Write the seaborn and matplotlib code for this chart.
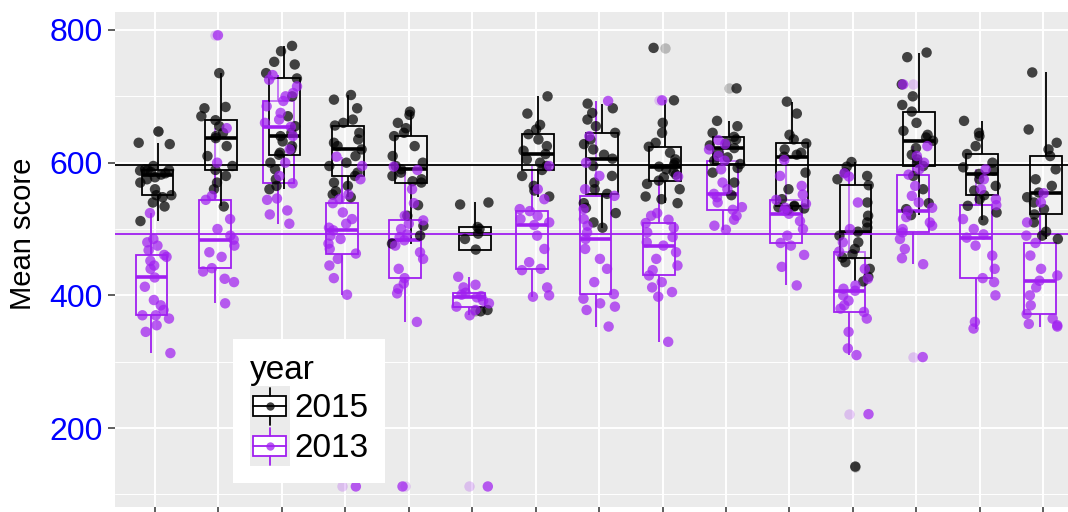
import numpy as np
import pandas as pd
import matplotlib
matplotlib.use("Agg")
import matplotlib.pyplot as plt
import seaborn as sns
from matplotlib.legend_handler import HandlerBase
from matplotlib.patches import Rectangle
from matplotlib.lines import Line2D
from matplotlib.colors import to_rgba

# ---- data -------------------------------------------------------------
groups = list(range(15))

scores_2015 = [
    [512, 534, 540, 548, 551, 551, 560, 570, 575, 578, 582, 584, 586, 588, 589, 589, 590, 595, 628, 630, 647],
    [534, 560, 570, 580, 589, 595, 610, 625, 637, 640, 645, 655, 664, 670, 682, 684, 735],
    [560, 565, 575, 590, 600, 612, 615, 620, 625, 632, 640, 645, 655, 670, 700, 727, 735, 748, 752, 768, 776],
    [548, 552, 557, 565, 570, 580, 585, 595, 600, 610, 620, 625, 630, 635, 645, 656, 660, 665, 682, 695, 702],
    [478, 490, 505, 520, 536, 570, 572, 575, 580, 585, 590, 595, 600, 610, 625, 640, 645, 652, 660, 672, 677],
    [376, 378, 469, 485, 493, 500, 503, 537, 540],
    [549, 558, 565, 580, 589, 595, 600, 605, 613, 618, 625, 635, 643, 650, 657, 674, 700],
    [502, 510, 524, 532, 539, 553, 560, 570, 580, 595, 606, 612, 620, 628, 635, 645, 655, 665, 675, 682, 689],
    [539, 545, 549, 560, 568, 573, 578, 582, 586, 590, 594, 597, 600, 605, 615, 624, 630, 645, 660, 694, 773],
    [551, 570, 585, 592, 598, 603, 608, 615, 622, 626, 630, 635, 639, 645, 655, 663, 712],
    [529, 531, 533, 534, 535, 545, 560, 585, 609, 612, 615, 620, 629, 635, 642, 674, 692],
    [142, 421, 428, 440, 450, 457, 462, 470, 480, 490, 496, 502, 510, 520, 540, 566, 575, 580, 585, 594, 601],
    [521, 530, 539, 560, 580, 595, 600, 605, 612, 622, 633, 638, 642, 648, 660, 677, 687, 700, 718, 759, 766],
    [513, 525, 535, 545, 551, 558, 565, 575, 583, 588, 593, 600, 613, 625, 640, 645, 663],
    [485, 490, 496, 510, 522, 530, 540, 548, 555, 565, 575, 590, 610, 620, 630, 650, 736],
]

scores_2013 = [
    [313, 345, 355, 365, 370, 370, 378, 385, 393, 413, 427, 440, 445, 452, 458, 461, 468, 475, 480, 485, 524],
    [388, 420, 425, 436, 441, 458, 465, 475, 484, 490, 500, 515, 544, 550, 600, 652, 792],
    [508, 522, 528, 544, 546, 569, 580, 600, 620, 640, 654, 660, 665, 675, 685, 693, 700, 705, 715, 725, 732],
    [112, 401, 426, 445, 455, 463, 470, 478, 485, 490, 498, 502, 508, 515, 525, 539, 545, 552, 575, 595, 609],
    [112, 360, 403, 410, 418, 426, 440, 455, 465, 475, 483, 488, 492, 500, 508, 513, 520, 539, 560, 589, 594],
    [112, 370, 378, 383, 388, 392, 397, 399, 401, 404, 412, 416, 428],
    [398, 400, 412, 438, 440, 450, 470, 490, 506, 510, 515, 520, 527, 530, 545, 560, 595],
    [353, 378, 383, 388, 395, 402, 420, 440, 455, 470, 485, 495, 505, 515, 530, 550, 560, 580, 600, 640, 693],
    [330, 398, 405, 412, 420, 430, 438, 445, 455, 465, 475, 480, 488, 495, 502, 509, 514, 520, 524, 579, 694],
    [499, 505, 514, 520, 529, 533, 540, 548, 553, 560, 570, 590, 603, 610, 620, 628, 634],
    [415, 443, 461, 475, 479, 490, 500, 512, 523, 528, 532, 538, 544, 552, 565, 580, 604],
    [221, 310, 320, 345, 365, 375, 380, 385, 392, 400, 407, 410, 415, 425, 440, 466, 480, 500, 540, 579, 584],
    [307, 447, 456, 470, 485, 495, 500, 505, 510, 518, 527, 532, 540, 550, 565, 582, 590, 600, 610, 625, 718],
    [350, 360, 400, 420, 426, 440, 460, 475, 487, 492, 500, 515, 536, 545, 560, 575, 590],
    [353, 355, 357, 365, 372, 385, 400, 412, 422, 430, 440, 460, 479, 490, 510, 540, 554],
]

years = ["2015", "2013"]
year_colors = {"2015": "#000000", "2013": "#A020F0"}
overall_means = {"2015": 597, "2013": 493}
y_ticks = [200, 400, 600, 800]
y_minor = [100, 300, 500, 700]

# small horizontal nudge so the two years' boxes do not sit exactly on top of each other
box_shift = {"2015": 0.04, "2013": -0.055}

rows = []
for year, series in (("2015", scores_2015), ("2013", scores_2013)):
    for g, vals in zip(groups, series):
        for v in vals:
            rows.append({"group": g, "year": year, "score": v})
df = pd.DataFrame(rows)
df["pos"] = df["group"] + df["year"].map(box_shift)

# ---- style ------------------------------------------------------------
sns.set_theme(style="darkgrid", rc={
    "axes.facecolor": "#EBEBEB",
    "figure.facecolor": "white",
    "grid.color": "white",
    "text.color": "black",
})
plt.rcParams["font.family"] = ["Liberation Sans", "DejaVu Sans"]

fig = plt.figure(figsize=(10.68, 5.12), dpi=100)
ax = fig.add_axes([115 / 1068, 5.3 / 512, 953 / 1068, 494.7 / 512])

# ---- boxes ------------------------------------------------------------
for year in ["2013", "2015"]:
    c = year_colors[year]
    sns.boxplot(
        data=df[df["year"] == year], x="pos", y="score", native_scale=True,
        width=0.5, whis=1.5, fill=True, color="white", linecolor=c, linewidth=1.3,
        boxprops=dict(facecolor=(1, 1, 1, 0.35), edgecolor=c, linewidth=1.3),
        medianprops=dict(color=c, linewidth=2.6),
        whiskerprops=dict(color=c, linewidth=1.3),
        capprops=dict(linewidth=0),
        flierprops=dict(marker="o", markersize=7.5,
                        markerfacecolor=to_rgba(c, 0.22), markeredgecolor="none"),
        ax=ax,
    )

# overall reference levels
for year in years:
    ax.axhline(overall_means[year], color=year_colors[year], lw=1.3, zorder=2.5)

# ---- jittered points ---------------------------------------------------
np.random.seed(7)
sns.stripplot(
    data=df, x="group", y="score", hue="year", hue_order=years,
    palette=year_colors, native_scale=True, jitter=0.27, size=7.5,
    alpha=0.72, linewidth=0, legend=False, zorder=3, ax=ax,
)

# ---- axes -------------------------------------------------------------
ax.set_xlim(-0.63, 14.39)
ax.set_ylim(81.5, 827.1)
ax.set_xticks(groups)
ax.set_xticklabels([""] * len(groups))
ax.set_yticks(y_ticks)
ax.set_yticklabels([str(t) for t in y_ticks])
ax.set_yticks(y_minor, minor=True)
ax.set_xlabel("")
ax.set_ylabel("Mean score", fontsize=21, color="black")
ax.yaxis.set_label_coords(-0.082, 0.551)

ax.tick_params(axis="y", which="major", labelsize=23, labelcolor="#0000FF",
               length=5, width=1.1, color="#333333", pad=4, left=True)
ax.tick_params(axis="x", which="major", length=5, width=1.1, color="#333333",
               bottom=True, pad=1)
ax.tick_params(which="minor", length=0)
ax.grid(which="major", color="white", lw=1.4)
ax.grid(which="minor", axis="y", color="white", lw=0.7)
ax.set_axisbelow(True)
for s in ax.spines.values():
    s.set_visible(False)


# ---- legend with boxplot keys -------------------------------------------
class BoxKeyHandler(HandlerBase):
    def __init__(self, color):
        super().__init__()
        self.color = color

    def create_artists(self, legend, orig_handle, xdescent, ydescent,
                       width, height, fontsize, trans):
        c = self.color
        x0, y0 = -xdescent, -ydescent
        bg = Rectangle((x0, y0), width, height, facecolor="#EBEBEB",
                       edgecolor="none", transform=trans)
        bw, bh = width * 0.82, height * 0.5
        bx, by = x0 + (width - bw) / 2, y0 + (height - bh) / 2
        cx, cy = bx + bw / 2, by + bh / 2
        box = Rectangle((bx, by), bw, bh, facecolor="white", edgecolor=c,
                        lw=1.3, transform=trans)
        med = Line2D([bx, bx + bw], [cy, cy], color=c, lw=1.3, transform=trans)
        w_top = Line2D([cx, cx], [by + bh, y0 + height - 1], color=c, lw=1.3,
                       transform=trans)
        w_bot = Line2D([cx, cx], [y0 + 1, by], color=c, lw=1.3, transform=trans)
        dot = Line2D([cx], [cy], marker="o", ms=6, ls="none",
                     markerfacecolor=to_rgba(c, 0.75), markeredgecolor="none",
                     transform=trans)
        return [bg, box, med, w_top, w_bot, dot]


h15 = Line2D([], [])
h13 = Line2D([], [])
leg = ax.legend(
    handles=[h15, h13], labels=years, title="year",
    handler_map={h15: BoxKeyHandler(year_colors["2015"]),
                 h13: BoxKeyHandler(year_colors["2013"])},
    loc="lower left", bbox_to_anchor=(0.1238, 0.0479), borderaxespad=0,
    frameon=True, fancybox=False, framealpha=1, facecolor="white",
    edgecolor="none", fontsize=24, title_fontsize=24, alignment="left",
    handlelength=1.2, handleheight=1.47, labelspacing=0.0,
    handletextpad=0.15, borderpad=0.5,
)
for t in leg.get_texts():
    t.set_color("black")
leg.get_title().set_color("black")
leg.set_zorder(5)

fig.savefig("out.png", dpi=100)
